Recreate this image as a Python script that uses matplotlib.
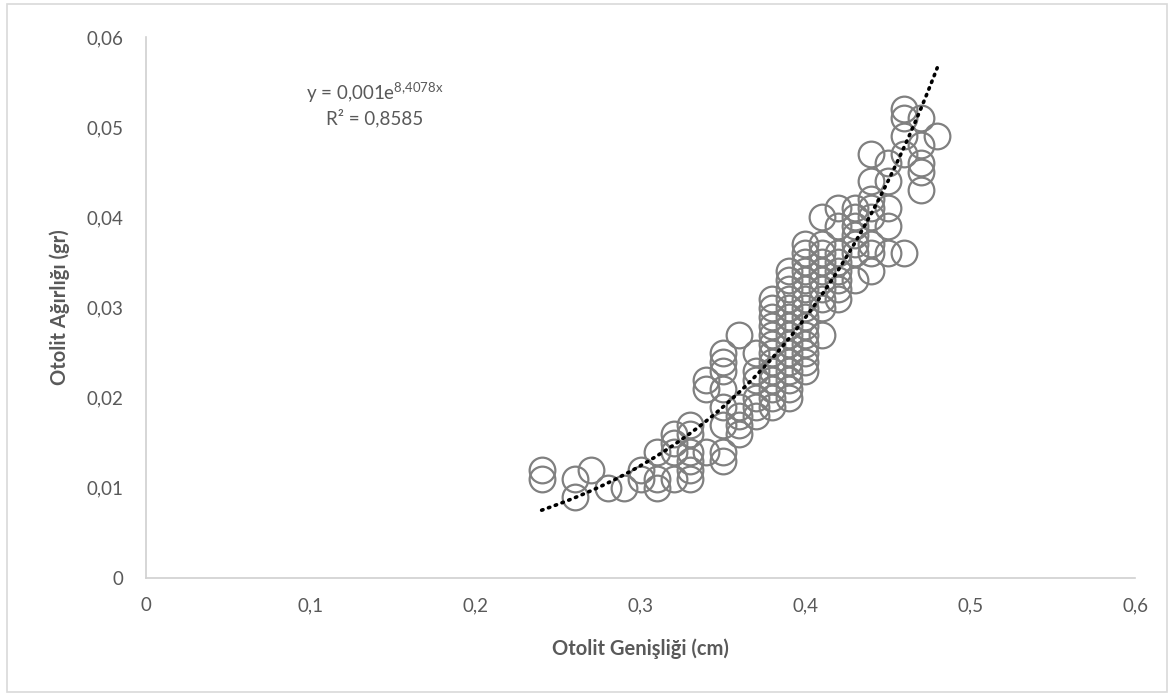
import numpy as np
import matplotlib.pyplot as plt

# otolith width (cm) and weight (gr)
width_cm = [0.24, 0.24, 0.26, 0.26, 0.27, 0.28, 0.29, 0.30, 0.30,
            0.31, 0.31, 0.31, 0.32, 0.32, 0.32, 0.32,
            0.33, 0.33, 0.33, 0.33, 0.33, 0.33, 0.34, 0.34, 0.34,
            0.35, 0.35, 0.35, 0.35, 0.35, 0.35, 0.35, 0.35,
            0.36, 0.36, 0.36, 0.36, 0.36,
            0.37, 0.37, 0.37, 0.37, 0.37, 0.37,
            0.38, 0.38, 0.38, 0.38, 0.38, 0.38, 0.38, 0.38, 0.38, 0.38, 0.38, 0.38, 0.38,
            0.39, 0.39, 0.39, 0.39, 0.39, 0.39, 0.39, 0.39, 0.39, 0.39, 0.39, 0.39, 0.39, 0.39, 0.39,
            0.40, 0.40, 0.40, 0.40, 0.40, 0.40, 0.40, 0.40, 0.40, 0.40, 0.40, 0.40, 0.40, 0.40, 0.40,
            0.41, 0.41, 0.41, 0.41, 0.41, 0.41, 0.41, 0.41, 0.41, 0.41,
            0.42, 0.42, 0.42, 0.42, 0.42, 0.42, 0.42, 0.42,
            0.43, 0.43, 0.43, 0.43, 0.43, 0.43, 0.43,
            0.44, 0.44, 0.44, 0.44, 0.44, 0.44, 0.44, 0.44,
            0.45, 0.45, 0.45, 0.45, 0.45,
            0.46, 0.46, 0.46, 0.46, 0.46,
            0.47, 0.47, 0.47, 0.47, 0.47, 0.48]
weight_gr = [0.011, 0.012, 0.009, 0.011, 0.012, 0.010, 0.010, 0.011, 0.012,
             0.010, 0.011, 0.014, 0.011, 0.014, 0.015, 0.016,
             0.011, 0.012, 0.013, 0.014, 0.016, 0.017, 0.014, 0.021, 0.022,
             0.013, 0.014, 0.017, 0.019, 0.021, 0.023, 0.024, 0.025,
             0.016, 0.017, 0.018, 0.019, 0.027,
             0.018, 0.019, 0.020, 0.022, 0.023, 0.025,
             0.019, 0.020, 0.021, 0.022, 0.023, 0.024, 0.025, 0.026, 0.027, 0.028, 0.029, 0.030, 0.031,
             0.020, 0.021, 0.022, 0.023, 0.024, 0.025, 0.026, 0.027, 0.028, 0.029, 0.030, 0.031, 0.032, 0.033, 0.034,
             0.023, 0.024, 0.025, 0.026, 0.027, 0.028, 0.029, 0.030, 0.031, 0.032, 0.033, 0.034, 0.035, 0.036, 0.037,
             0.027, 0.030, 0.031, 0.032, 0.033, 0.034, 0.035, 0.036, 0.037, 0.040,
             0.031, 0.032, 0.033, 0.034, 0.035, 0.036, 0.039, 0.041,
             0.033, 0.036, 0.037, 0.038, 0.039, 0.040, 0.041,
             0.034, 0.036, 0.037, 0.040, 0.041, 0.042, 0.044, 0.047,
             0.036, 0.039, 0.041, 0.044, 0.046,
             0.036, 0.047, 0.049, 0.051, 0.052,
             0.043, 0.045, 0.046, 0.048, 0.051, 0.049]

# exponential trendline y = a * e^(b x)
fit_a = 0.001
fit_b = 8.4078
fit_range = [0.24, 0.48]

plt.rcParams['font.family'] = ['Lato', 'DejaVu Sans']
grey = '#595959'

fig = plt.figure(figsize=(11.74, 6.96), dpi=100, facecolor='white')
ax = fig.add_axes([0.1244, 0.1695, 0.8424, 0.7773])

ax.plot(width_cm, weight_gr, linestyle='none', marker='o', markersize=18.5,
        markerfacecolor='none', markeredgecolor='#808080', markeredgewidth=1.6)

xf = np.linspace(fit_range[0], fit_range[1], 200)
ax.plot(xf, fit_a * np.exp(fit_b * xf), color='black', linewidth=2.6,
        linestyle=(0, (0.4, 1.6)), dash_capstyle='round')

ax.set_xlim(0, 0.6)
ax.set_ylim(0, 0.06)
ax.set_xticks([0, 0.1, 0.2, 0.3, 0.4, 0.5, 0.6])
ax.set_xticklabels(['0', '0,1', '0,2', '0,3', '0,4', '0,5', '0,6'])
ax.set_yticks([0, 0.01, 0.02, 0.03, 0.04, 0.05, 0.06])
ax.set_yticklabels(['0', '0,01', '0,02', '0,03', '0,04', '0,05', '0,06'])
ax.tick_params(length=0, labelsize=13.5, labelcolor=grey)
ax.tick_params(axis='y', pad=16)
ax.tick_params(axis='x', pad=14)

for s in ['top', 'right']:
    ax.spines[s].set_visible(False)
for s in ['left', 'bottom']:
    ax.spines[s].set_color('#d0d0d0')
    ax.spines[s].set_linewidth(1.2)

ax.set_xlabel('Otolit Genişliği (cm)', fontsize=14.5, fontweight='bold', color=grey, labelpad=17)
ax.set_ylabel('Otolit Ağırlığı (gr)', fontsize=14.5, fontweight='bold', color=grey, labelpad=12)

fig.text(0.319, 0.866, r'y = 0,001e$\mathregular{^{8{,}4078x}}$', ha='center',
         va='center', fontsize=13.5, color=grey)
fig.text(0.319, 0.830, 'R² = 0,8585', ha='center', va='center', fontsize=13.5, color=grey)

fig.add_artist(plt.Rectangle((0.006, 0.006), 0.988, 0.988, transform=fig.transFigure,
                             fill=False, edgecolor='#d9d9d9', linewidth=1.2))

plt.savefig('out.png', dpi=100)
